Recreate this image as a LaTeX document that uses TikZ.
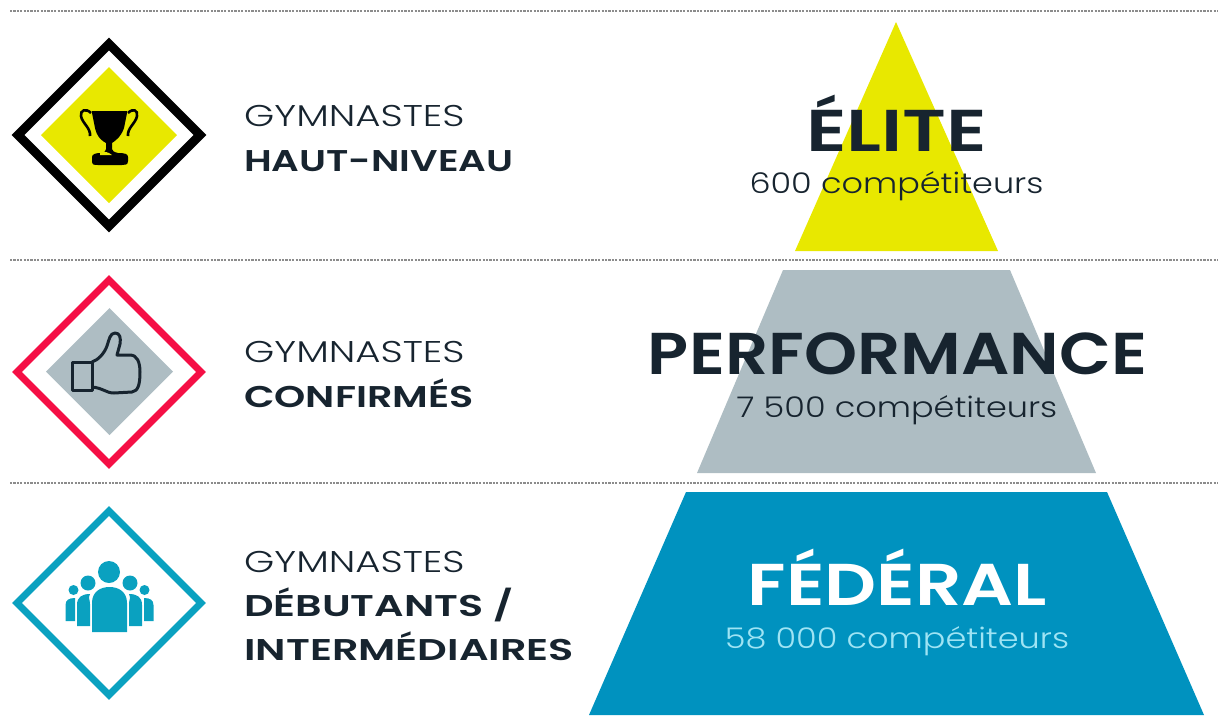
\documentclass[tikz,border=0pt]{standalone}
\usepackage{fontspec}
\setmainfont{Poppins}
\newfontfamily\lightf[FakeStretch=1.29]{Poppins Light}
\newfontfamily\medf[FakeStretch=1.29]{Poppins SemiBold}
\newfontfamily\medc[FakeStretch=1.325]{Poppins SemiBold}
\newfontfamily\medg[FakeStretch=1.375]{Poppins SemiBold}
\newfontfamily\medh[FakeStretch=1.38]{Poppins SemiBold}
\newfontfamily\cntf[FakeStretch=1.175]{Poppins Light}
\newfontfamily\bigA[FakeStretch=1.29]{Poppins SemiBold}
\newfontfamily\bigB[FakeStretch=1.145]{Poppins SemiBold}
\newfontfamily\bigC[FakeStretch=1.23]{Poppins SemiBold}
\definecolor{ink}{HTML}{17242F}
\definecolor{yel}{HTML}{E8E800}
\definecolor{gry}{HTML}{AEBDC3}
\definecolor{blu}{HTML}{0092BF}
\definecolor{teal}{HTML}{0AA1C0}
\definecolor{rouge}{HTML}{F50F45}
\definecolor{cyanlt}{HTML}{9FE4F4}
\tikzset{
 sep/.style={draw=black!45,line width=1.8pt,dash pattern=on 2.2pt off 1.2pt},
 lab/.style={anchor=base west,inner sep=0pt,text=ink},
 lablight/.style={lab,font=\lightf\fontsize{30}{30}\selectfont},
 labbold/.style={lab,font=\medf\fontsize{30}{30}\selectfont},
 cnt/.style={anchor=base,inner sep=0pt,text=ink,font=\cntf\fontsize{28.5}{30}\selectfont},
 big/.style={anchor=base,inner sep=0pt,text=ink},
}
\begin{document}
\begin{tikzpicture}[x=1pt,y=-1pt]
\useasboundingbox (0,0) rectangle (1218,721);
\draw[sep] (10,11) -- (1218,11);
\draw[sep] (10,260) -- (1218,260);
\draw[sep] (10,483) -- (1218,483);
% pyramid
\fill[yel] (896,22) -- (998,251) -- (795,251) -- cycle;
\fill[gry] (783,270) -- (1010,270) -- (1096,473) -- (697,473) -- cycle;
\fill[blu] (686,492) -- (1107,492) -- (1204,715) -- (589,715) -- cycle;
% diamond 1
\draw[black,line width=9pt,miter limit=10] (109,44) -- (200,135) -- (109,226) -- (18,135) -- cycle;
\fill[yel] (109,67) -- (177,135) -- (109,203) -- (41,135) -- cycle;
% trophy
\fill[black] (92,113) -- (127,113) -- (124,128) .. controls (121,137) and (115,141) .. (112,143) -- (112,149) .. controls (112,151) and (114,152) .. (118,153) .. controls (125,153) and (128,154) .. (128,157) -- (128,161) .. controls (128,165) and (125,165) .. (122,165) -- (98,165) .. controls (94,165) and (92,165) .. (92,161) -- (92,157) .. controls (92,154) and (96,153) .. (101,153) .. controls (105,152) and (106,151) .. (106,149) -- (106,143) .. controls (102,141) and (97,137) .. (95,128) -- cycle;
\draw[black,line width=2.6pt] (91,113) .. controls (86,108) and (80,110) .. (81,116) .. controls (82,123) and (91,128) .. (90,136);
\draw[black,line width=2.6pt] (128,113) .. controls (133,108) and (138,110) .. (137,116) .. controls (136,123) and (127,128) .. (128,136);
\draw[black,line width=2pt] (92,112) -- (127,112);
\fill[yel] (100,152.5) .. controls (105,151) and (108,152) .. (112,155) -- (100,155) -- cycle;
% diamond 2
\draw[rouge,line width=7pt,miter limit=10] (109,280) -- (201,372) -- (109,464) -- (17,372) -- cycle;
\fill[gry] (109.5,308) -- (173,371.5) -- (109.5,435) -- (46,371.5) -- cycle;
\draw[ink,line width=3pt,line join=round] (72,362) rectangle (92,390);
\draw[ink,line width=3pt,line join=round] (92,362) .. controls (98,360) and (104,354) .. (107,346) .. controls (109,340) and (110,333) .. (115,333) .. controls (120,333) and (121,338) .. (120,344) -- (117,355) -- (130,355) .. controls (137,355) and (140,362) .. (140,372) .. controls (140,385) and (138,391) .. (132,392) -- (114,393) .. controls (106,393) and (103,388) .. (92,387);
% diamond 3
\draw[teal,line width=7pt,miter limit=10] (109,511) -- (201,603) -- (109,695) -- (17,603) -- cycle;
\fill[teal] (109,572) circle[radius=11];
\fill[teal] (88,583) circle[radius=7.5];
\fill[teal] (130,583) circle[radius=7.5];
\fill[teal] (73.5,590) circle[radius=5];
\fill[teal] (144.5,590) circle[radius=5];
\fill[teal] (92,632) -- (92,603) .. controls (92,592) and (100,587) .. (109.5,587) .. controls (119,587) and (127,592) .. (127,603) -- (127,632) -- cycle;
\fill[teal] (77,626) -- (77,605) .. controls (77,597) and (82,594) .. (90,594) .. controls (88,598) and (90,600) .. (90,604) -- (90,626) -- cycle;
\fill[teal] (142,626) -- (142,605) .. controls (142,597) and (137,594) .. (129,594) .. controls (131,598) and (129,600) .. (129,604) -- (129,626) -- cycle;
\fill[teal] (65.5,621) -- (65.5,605) .. controls (65.5,600) and (69,598) .. (75,598) -- (75,621) -- cycle;
\fill[teal] (153.5,621) -- (153.5,605) .. controls (153.5,600) and (150,598) .. (144,598) -- (144,621) -- cycle;
% left labels
\node[lablight] (g1) at (244,126) {GYMNASTES};
\node[labbold] (h1) at (244,171) {HAUT-NIVEAU};
\node[lablight] (g2) at (244,362) {GYMNASTES};
\node[labbold,font=\medc\fontsize{30}{30}\selectfont] (h2) at (244,407) {CONFIRMÉS};
\node[lablight] (g3) at (244,572) {GYMNASTES};
\node[labbold,font=\medg\fontsize{30}{30}\selectfont] (h3) at (244,616) {DÉBUTANTS /};
\node[labbold,font=\medh\fontsize{30}{30}\selectfont] (h4) at (244,660) {INTERMÉDIAIRES};
% pyramid labels
\node[big,font=\bigA\fontsize{59}{60}\selectfont] (e) at (896.5,151) {ÉLITE};
\node[cnt] (ec) at (896.5,193) {600 compétiteurs};
\node[big,font=\bigB\fontsize{59}{60}\selectfont] (p) at (897.5,374) {PERFORMANCE};
\node[cnt] (pc) at (897,417) {7 500 compétiteurs};
\node[big,font=\bigC\fontsize{59}{60}\selectfont,text=white] (f) at (897.5,605) {FÉDÉRAL};
\node[cnt,text=cyanlt] (fc) at (897,648) {58 000 compétiteurs};
\end{tikzpicture}
\end{document}
